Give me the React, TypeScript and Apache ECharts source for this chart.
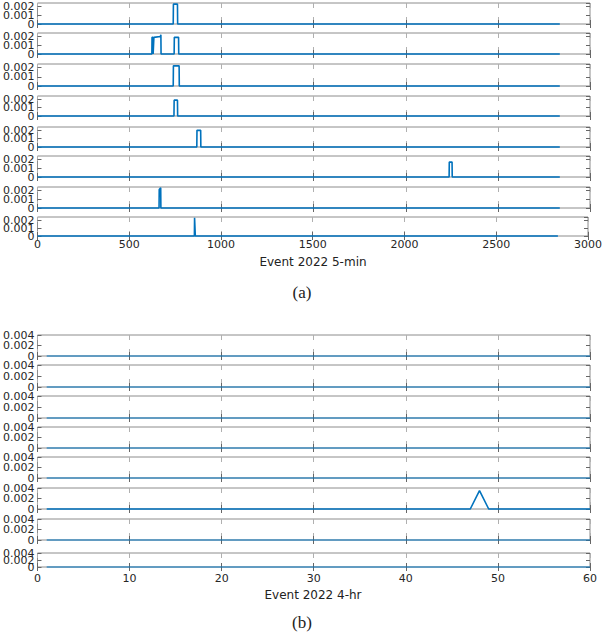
import React, { useEffect, useRef } from "react";
import * as echarts from "echarts";

// ---- tick values ----
const xTicksA = [0, 500, 1000, 1500, 2000, 2500, 3000];
const yTicksA = [0, 0.001, 0.002];
const xTicksB = [0, 10, 20, 30, 40, 50, 60];
const yTicksB = [0, 0.002, 0.004];

// ---- panel (a): 5-min series, [step, value] ----
const a1 = [[0, 0], [737, 0], [738, 0.00227], [760, 0.00227], [761, 0], [2836, 0]];
const a2 = [[0, 0], [621, 0], [622, 0.0019], [627, 0.0019], [628, 0], [631, 0], [632, 0.0019], [667, 0.002], [670, 0.0022], [671, 0], [742, 0], [743, 0.0019], [766, 0.0019], [767, 0], [2836, 0]];
const a3 = [[0, 0], [737, 0], [738, 0.0022], [769, 0.0022], [770, 0], [2836, 0]];
const a4 = [[0, 0], [741, 0], [742, 0.0019], [760, 0.0019], [761, 0], [2836, 0]];
const a5 = [[0, 0], [865, 0], [866, 0.002], [886, 0.002], [887, 0], [2836, 0]];
const a6 = [[0, 0], [2235, 0], [2236, 0.0017], [2251, 0.0017], [2252, 0], [2836, 0]];
const a7 = [[0, 0], [660, 0], [661, 0.0021], [669, 0.0023], [670, 0], [2836, 0]];
const a8 = [[0, 0], [855, 0], [856, 0.0023], [859, 0.0023], [860, 0], [2836, 0]];

// ---- panel (b): 4-hr series, [step, value] ----
const b1 = [[1, 0], [60, 0]];
const b2 = [[1, 0], [60, 0]];
const b3 = [[1, 0], [60, 0]];
const b4 = [[1, 0], [60, 0]];
const b5 = [[1, 0], [60, 0]];
const b6 = [[1, 0], [47, 0], [48, 0.0035], [49, 0], [60, 0]];
const b7 = [[1, 0], [60, 0]];
const b8 = [[1, 0], [60, 0]];

const seriesA = [a1, a2, a3, a4, a5, a6, a7, a8];
const seriesB = [b1, b2, b3, b4, b5, b6, b7, b8];

const BLUE = "#0072BD";
const FONT = "DejaVu Sans";

export default function App() {
  const ref = useRef<HTMLDivElement>(null);

  useEffect(() => {
    if (!ref.current) return;
    const chart = echarts.init(ref.current, undefined, { renderer: "svg" });

    const grids: any[] = [];
    const xAxes: any[] = [];
    const yAxes: any[] = [];
    const series: any[] = [];

    const same = (a: number, b: number) => Math.abs(a - b) < 1e-9;
    const fmt = (v: number) => String(+v.toFixed(6));

    const addPanel = (
      tops: number[],
      heights: number[],
      xTicks: number[],
      yTicks: number[],
      yMax: number,
      data: number[][][],
      xLabelMargin: number,
      widths: number[]
    ) => {
      const xMin = xTicks[0];
      const xMax = xTicks[xTicks.length - 1];
      const xInt = xTicks[1] - xTicks[0];
      const yInt = yTicks[1] - yTicks[0];
      const outer = [yTicks[0], yTicks[yTicks.length - 1]];
      const inner = yTicks.slice(1, -1);
      data.forEach((d, i) => {
        const g = grids.length;
        const last = i === data.length - 1;
        grids.push({
          left: 36,
          width: 554,
          top: tops[i],
          height: heights[i],
          show: true,
          borderColor: "#8c8c8c",
          borderWidth: 1,
          backgroundColor: "transparent",
        });
        const xBase = {
          type: "value",
          gridIndex: g,
          min: xMin,
          max: xMax,
          interval: xInt,
          axisLine: { show: false },
          axisTick: { show: true, inside: true, length: 4, lineStyle: { color: "#666" } },
        };
        xAxes.push({
          ...xBase,
          position: "bottom",
          splitLine: { show: true, lineStyle: { type: [5, 9], color: "#b0b0b0", width: 1 } },
          axisLabel: {
            show: last,
            fontFamily: FONT,
            fontSize: 11,
            color: "#262626",
            margin: xLabelMargin,
            hideOverlap: false,
            showMinLabel: true,
            showMaxLabel: true,
            formatter: (v: number) => String(v),
          },
        });
        xAxes.push({
          ...xBase,
          position: "top",
          splitLine: { show: false },
          axisLabel: { show: false },
        });
        const yBase = {
          type: "value",
          gridIndex: g,
          min: 0,
          max: yMax,
          interval: yInt,
          axisLine: { show: false },
          splitLine: { show: false },
        };
        const labelBase = {
          show: true,
          fontFamily: FONT,
          fontSize: 11,
          color: "#262626",
          margin: 3,
          hideOverlap: false,
        };
        const yi = yAxes.length;
        // outer labels (0 and top tick) + ticks
        yAxes.push({
          ...yBase,
          position: "left",
          axisTick: { show: true, inside: true, length: 4, lineStyle: { color: "#666" } },
          axisLabel: {
            ...labelBase,
            showMinLabel: true,
            showMaxLabel: yTicks.includes(yMax),
            formatter: (v: number) => (outer.some((t) => same(t, v)) ? fmt(v) : ""),
          },
        });
        // inner label(s)
        yAxes.push({
          ...yBase,
          position: "left",
          axisTick: { show: false },
          axisLabel: {
            ...labelBase,
            showMinLabel: false,
            showMaxLabel: false,
            formatter: (v: number) => (inner.some((t) => same(t, v)) ? fmt(v) : ""),
          },
        });
        // right-side ticks
        yAxes.push({
          ...yBase,
          position: "right",
          axisTick: { show: true, inside: true, length: 4, lineStyle: { color: "#666" } },
          axisLabel: { show: false },
        });
        series.push({
          type: "line",
          xAxisIndex: 2 * g,
          yAxisIndex: yi,
          data: d,
          showSymbol: false,
          symbol: "none",
          clip: false,
          silent: true,
          lineStyle: { color: BLUE, width: widths[i] },
        });
      });
    };

    addPanel(
      [3, 33, 64, 96, 127, 156, 187, 217],
      [21, 21, 22, 20, 20, 21, 21, 19],
      xTicksA,
      yTicksA,
      0.0024,
      seriesA,
      3,
      [1.6, 1.6, 1.6, 1.6, 1.6, 1.6, 1.6, 1.6]
    );
    addPanel(
      [335, 365, 396, 427, 457, 488, 519, 553],
      [21, 22, 22, 21, 21, 21, 21, 14],
      xTicksB,
      yTicksB,
      0.004,
      seriesB,
      6,
      [1, 1, 1, 1.2, 1, 1.6, 1, 1]
    );

    const txt = (text: string, x: number, y: number, font: string) => ({
      type: "text",
      x,
      y,
      silent: true,
      style: { text, font, fill: "#222", align: "center", verticalAlign: "middle" },
    });

    chart.setOption({
      animation: false,
      backgroundColor: "#ffffff",
      grid: grids,
      xAxis: xAxes,
      yAxis: yAxes,
      series,
      graphic: [
        txt("Event 2022 5-min", 313, 262, `12px "${FONT}"`),
        txt("(a)", 302, 292, `17px "Liberation Serif"`),
        txt("Event 2022 4-hr", 313, 595, `12px "${FONT}"`),
        txt("(b)", 302, 622, `17px "Liberation Serif"`),
      ],
    });

    return () => chart.dispose();
  }, []);

  return (
    <div
      ref={ref}
      style={{ position: "absolute", left: 0, top: 0, width: 605, height: 635 }}
    />
  );
}
